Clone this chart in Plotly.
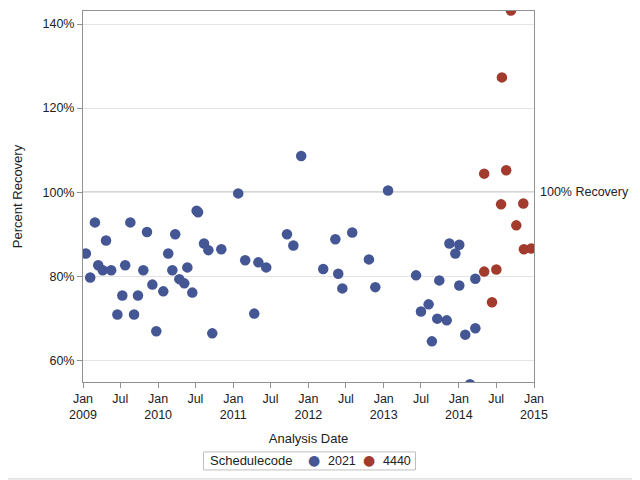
import plotly.graph_objects as go

# Schedulecode 2021
dates_2021 = [
    "2009-01-15", "2009-02-05", "2009-02-28", "2009-03-16", "2009-04-07", "2009-04-23",
    "2009-05-18", "2009-06-17", "2009-07-11", "2009-07-25", "2009-08-19", "2009-09-06",
    "2009-09-25", "2009-10-21", "2009-11-08", "2009-12-04", "2009-12-23", "2010-01-26",
    "2010-02-19", "2010-03-11", "2010-03-25", "2010-04-14", "2010-05-08", "2010-05-23",
    "2010-06-16", "2010-07-07", "2010-07-14", "2010-08-12", "2010-09-02", "2010-09-21",
    "2010-11-04", "2011-01-25", "2011-02-28", "2011-04-13", "2011-05-03", "2011-06-10",
    "2011-09-19", "2011-10-20", "2011-11-27", "2012-03-13", "2012-05-11", "2012-05-25",
    "2012-06-14", "2012-08-01", "2012-10-21", "2012-11-21", "2013-01-22", "2013-06-07",
    "2013-07-01", "2013-08-07", "2013-08-23", "2013-09-18", "2013-09-28", "2013-11-03",
    "2013-11-16", "2013-12-15", "2014-01-03", "2014-01-03", "2014-02-01", "2014-02-24",
    "2014-03-22", "2014-03-22",
]
recovery_2021 = [
    85.4, 79.7, 92.8, 82.6, 81.4, 88.5,
    81.4, 70.9, 75.4, 82.6, 92.8, 70.9,
    75.4, 81.4, 90.5, 78.0, 66.9, 76.4,
    85.4, 81.4, 90.0, 79.3, 78.3, 82.1,
    76.1, 95.6, 95.2, 87.8, 86.2, 66.4,
    86.4, 99.7, 83.8, 71.1, 83.3, 82.1,
    90.0, 87.3, 108.6, 81.7, 88.8, 80.6,
    77.1, 90.4, 84.0, 77.4, 100.4, 80.2,
    71.6, 73.3, 64.5, 69.9, 79.0, 69.5,
    87.8, 85.4, 87.5, 77.8, 66.1, 54.3,
    67.6, 79.4,
]

# Schedulecode 4440
dates_4440 = [
    "2014-05-04", "2014-05-04", "2014-06-11", "2014-07-02", "2014-07-25", "2014-07-29",
    "2014-08-19", "2014-09-11", "2014-10-07", "2014-11-10", "2014-11-13", "2014-12-19",
]
recovery_4440 = [
    104.4, 81.1, 73.8, 81.6, 97.1, 127.3,
    105.2, 143.2, 92.1, 97.3, 86.4, 86.6,
]

x_tickvals = ["2009-01-01", "2009-07-01", "2010-01-01", "2010-07-01", "2011-01-01",
              "2011-07-01", "2012-01-01", "2012-07-01", "2013-01-01", "2013-07-01",
              "2014-01-01", "2014-07-01", "2015-01-01"]
x_ticktext = ["Jan<br>2009", "Jul", "Jan<br>2010", "Jul", "Jan<br>2011", "Jul",
              "Jan<br>2012", "Jul", "Jan<br>2013", "Jul", "Jan<br>2014", "Jul",
              "Jan<br>2015"]
y_tickvals = [60, 80, 100, 120, 140]
y_ticktext = ["60%", "80%", "100%", "120%", "140%"]

FONT = "Liberation Sans, Arial, sans-serif"
AXIS = "#8f9193"
C1, C2 = "#445694", "#A23A2E"
TXT = "#222222"

fig = go.Figure()
fig.add_trace(go.Scatter(x=dates_2021, y=recovery_2021, mode="markers", name="2021",
                         marker=dict(color=C1, size=10.5, line=dict(width=0))))
fig.add_trace(go.Scatter(x=dates_4440, y=recovery_4440, mode="markers", name="4440",
                         marker=dict(color=C2, size=10.5, line=dict(width=0))))

fig.add_shape(type="line", xref="paper", x0=0, x1=1, yref="y", y0=100, y1=100,
              line=dict(color="#8f8f8f", width=1), layer="below")
fig.add_annotation(text="100% Recovery", xref="paper", x=1, yref="y", y=100,
                   xanchor="left", yanchor="middle", xshift=4, showarrow=False,
                   font=dict(size=12.5, color=TXT, family=FONT))

# plot area in page pixels
L, T, W, H = 83, 11.3, 451, 370.4
B = T + H
px = lambda v: (v - L) / W
py = lambda v: (B - v) / H

# right and bottom edges of the outer border
fig.add_shape(type="line", xref="paper", yref="paper",
              x0=px(638.5), x1=px(638.5), y0=py(478.5), y1=py(8),
              line=dict(color="#d0d0d0", width=1))
fig.add_shape(type="line", xref="paper", yref="paper",
              x0=px(8), x1=px(638.5), y0=py(478.5), y1=py(478.5),
              line=dict(color="#d0d0d0", width=1))

# legend
fig.add_shape(type="rect", xref="paper", yref="paper",
              x0=px(203.5), x1=px(415.5), y0=py(469.5), y1=py(451.5),
              line=dict(color="#bfbfbf", width=1), fillcolor="white")
legend_items = [("Schedulecode", 208, TXT, 13), ("2021", 326, TXT, 12.5), ("4440", 381, TXT, 12.5)]
for text, x0, col, fs in legend_items:
    fig.add_annotation(text=text, xref="paper", yref="paper", x=px(x0), y=py(460.5),
                       xanchor="left", yanchor="middle", showarrow=False,
                       font=dict(size=fs, color=col, family=FONT))
for xc, col in [(314, C1), (369, C2)]:
    fig.add_annotation(text="\u25cf", xref="paper", yref="paper", x=px(xc), y=py(459.5),
                       xanchor="center", yanchor="middle", showarrow=False,
                       font=dict(size=14, color=col, family="DejaVu Sans"))

fig.update_layout(
    width=632, height=472,
    margin=dict(l=75, r=106, t=3, b=98, autoexpand=False),
    paper_bgcolor="white", plot_bgcolor="white",
    font=dict(family=FONT, size=12, color=TXT),
    showlegend=False,
    xaxis=dict(type="date", range=["2009-01-01", "2015-01-01"],
               tickvals=x_tickvals, ticktext=x_ticktext,
               showgrid=False, zeroline=False, automargin=False,
               showline=True, linecolor=AXIS, linewidth=1, mirror=True,
               ticks="outside", ticklen=5, tickcolor=AXIS,
               tickfont=dict(size=12.5),
               title=dict(text="Analysis Date", font=dict(size=13), standoff=12)),
    yaxis=dict(range=[54.83, 143.1], tickvals=y_tickvals, ticktext=y_ticktext,
               showgrid=True, gridcolor="#e4e4e4", zeroline=False, automargin=False,
               showline=True, linecolor=AXIS, linewidth=1, mirror=True,
               ticks="outside", ticklen=5, tickcolor=AXIS,
               tickfont=dict(size=12.5),
               title=dict(text="Percent Recovery", font=dict(size=13), standoff=16)),
)

fig.write_html("out.html")
